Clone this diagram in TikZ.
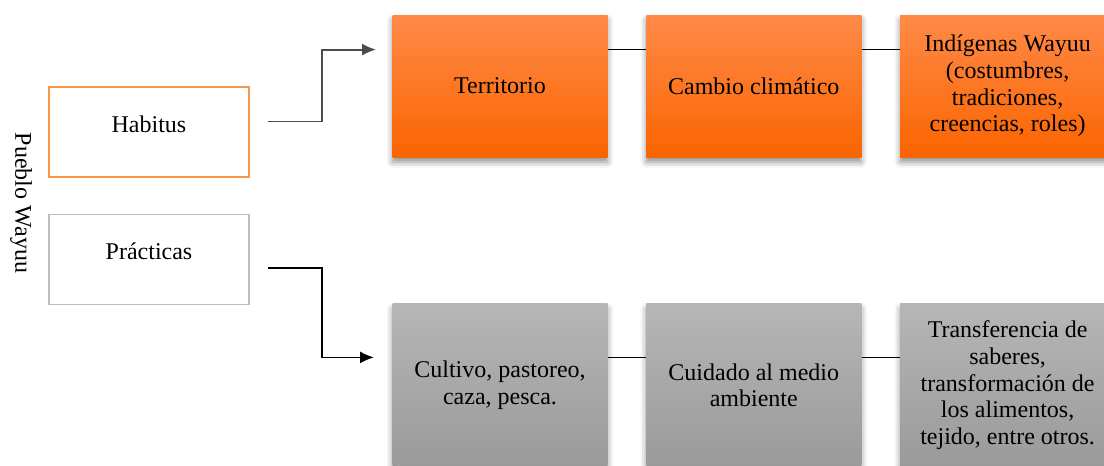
\documentclass[tikz,border=0pt]{standalone}
\usepackage{fontspec}
\setmainfont{Liberation Serif}
\usetikzlibrary{positioning,arrows.meta,shadows.blur}
\definecolor{orangetop}{RGB}{255,138,72}
\definecolor{orangebot}{RGB}{250,100,0}
\definecolor{graytop}{RGB}{182,182,182}
\definecolor{graybot}{RGB}{154,154,154}
\definecolor{habitusline}{RGB}{247,150,70}
\definecolor{practline}{RGB}{190,190,190}

\tikzset{
  txt/.style={font=\fontsize{12}{13.3}\selectfont},
  leftbox/.style={txt, draw, line width=0.6pt, fill=white, minimum width=100pt,
    minimum height=45pt, text height=22.5pt, text depth=22.5pt, inner ysep=0pt},
  rowbox/.style={txt, minimum width=107.5pt, inner sep=2pt, align=center,
    blur shadow={shadow xshift=0pt, shadow yshift=-2.5pt, shadow blur radius=3pt, shadow opacity=45}},
  topbox/.style={rowbox, minimum height=71pt, top color=orangetop, bottom color=orangebot},
  botbox/.style={rowbox, minimum height=81.5pt, top color=graytop, bottom color=graybot},
  link/.style={line width=0.8pt},
  conn/.style={line width=0.9pt, -{Latex[length=7pt,width=6pt]}}
}

\begin{document}
\begin{tikzpicture}[x=0.5pt, y=-0.5pt]
	\useasboundingbox (0,0) rectangle (1104,466);
	% left column
	\node [txt, rotate=-90] (pueblo) at (21,203) {Pueblo Wayuu};
	\node [leftbox, draw=habitusline] (habitus) at (149,132) {Habitus};
	\node [leftbox, draw=practline, below=18pt of habitus] (practicas) {Prácticas};
	% orange row
	\node [topbox] (territorio) at (500,86) {Territorio};
	\node [topbox, right=19pt of territorio] (clima) {Cambio climático};
	\node [topbox, right=19pt of clima] (indigenas) {Indígenas Wayuu\\(costumbres,\\tradiciones,\\creencias, roles)};
	% gray row
	\node [botbox, below=73pt of territorio] (cultivo) {Cultivo, pastoreo,\\caza, pesca.};
	\node [botbox, right=19pt of cultivo] (cuidado) {Cuidado al medio\\ambiente};
	\node [botbox, right=19pt of cuidado] (saberes) {Transferencia de\\saberes,\\transformación de\\los alimentos,\\tejido, entre otros.};
	% connections
	\draw [link] ([yshift=-17.5pt]territorio.north east) -- ([yshift=-17.5pt]clima.north west);
	\draw [link] ([yshift=-17.5pt]clima.north east) -- ([yshift=-17.5pt]indigenas.north west);
	\draw [link] ([yshift=-27pt]cultivo.north east) -- ([yshift=-27pt]cuidado.north west);
	\draw [link] ([yshift=-27pt]cuidado.north east) -- ([yshift=-27pt]saberes.north west);
	\draw [conn, draw=black!70] ([xshift=9pt,yshift=-17.5pt]habitus.north east) -- ++(27pt,0) |- ([xshift=-8pt,yshift=-17.5pt]territorio.north west);
	\draw [conn] ([xshift=9pt,yshift=-27pt]practicas.north east) -- ++(27pt,0) |- ([xshift=-9pt,yshift=-27pt]cultivo.north west);
\end{tikzpicture}
\end{document}
